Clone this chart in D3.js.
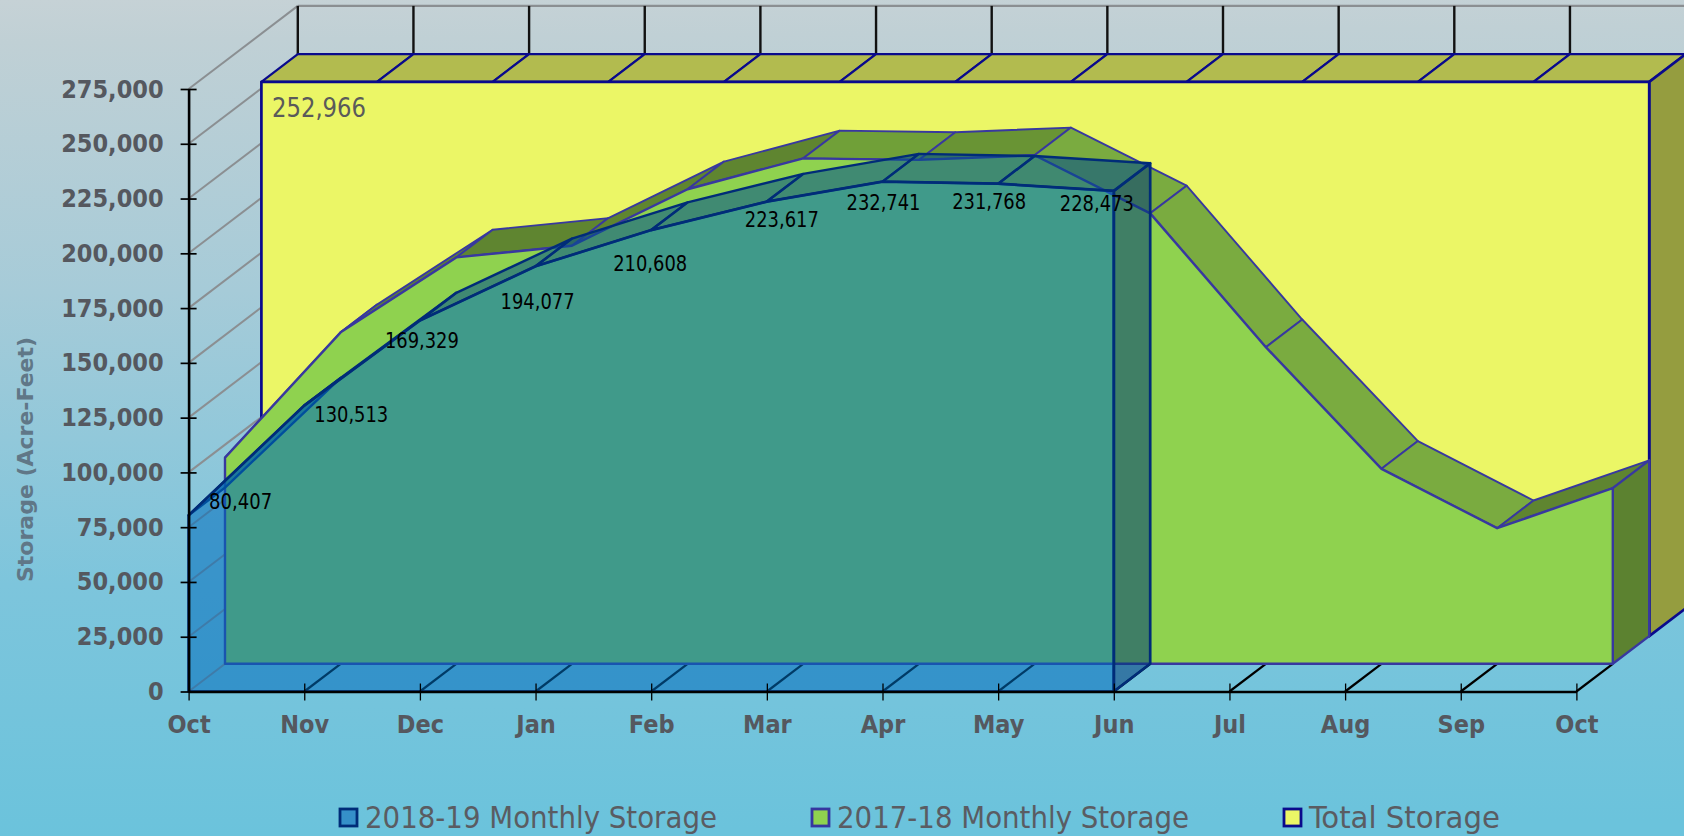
<!DOCTYPE html>
<html>
<head>
<meta charset="utf-8">
<script src="https://cdnjs.cloudflare.com/ajax/libs/d3/7.8.5/d3.min.js"></script>
<style>
html,body{margin:0;padding:0;overflow:hidden;background:#8fc8da}
svg{display:block}
text{font-family:"DejaVu Sans",sans-serif;font-stretch:condensed}
</style>
</head>
<body>
<svg id="c" width="1684" height="836"></svg>
<script>
// ---- data ----
const months = ["Oct","Nov","Dec","Jan","Feb","Mar","Apr","May","Jun","Jul","Aug","Sep","Oct"];
const storage2018 = [80407,130513,169329,194077,210608,223617,232741,231768,228473];
const storage2017 = [94100,151300,185500,190800,216600,230700,230000,232100,205600,144500,89000,61900,80200];
const totalStorage = [252966,252966,252966,252966,252966,252966,252966,252966,252966,252966,252966,252966,252966];
const yTicks = [0,25000,50000,75000,100000,125000,150000,175000,200000,225000,250000,275000];
const seriesNames = ["2018-19 Monthly Storage","2017-18 Monthly Storage","Total Storage"];

// ---- layout ----
const DX = 36.4, DY = 27.7;
const LABEL_SHIFT = [[52,-7],[47,15],[2,26],[2,42],[-1,40],[15,24],[1,27],[-9,24],[-17,19]];
const LEGEND_W = [352,352,191];
const svg = d3.select("#c");
const x = d3.scaleLinear().domain([0,12]).range([188.6,1576.4]);
const y = d3.scaleLinear().domain([0,275000]).range([691.5,89]);
const fmt = d3.format(",");
const px = (i,k)=>x(i)+k*DX, py = (v,k)=>y(v)-k*DY;
const poly = pts => "M"+pts.map(p=>p.join(",")).join("L")+"Z";

// background
const defs = svg.append("defs");
const g = defs.append("linearGradient").attr("id","bg").attr("x1",0).attr("y1",0).attr("x2",0.02).attr("y2",1);
[[0,"#c6d2d6"],[0.05,"#c0d0d5"],[0.35,"#a6cbd8"],[0.7,"#7dc5dc"],[1,"#6bc3dc"]].forEach(s=>g.append("stop").attr("offset",s[0]).attr("stop-color",s[1]));
svg.append("rect").attr("width",1684).attr("height",836).attr("fill","url(#bg)");

// side wall gridlines, back wall and floor ticks
const wall = svg.append("g");
wall.selectAll("line.grid").data(yTicks).join("line").attr("class","grid")
  .attr("x1",x(0)).attr("y1",d=>y(d)).attr("x2",px(0,3)).attr("y2",d=>py(d,3))
  .attr("stroke","#8b8f92").attr("stroke-width",2);
wall.append("line").attr("x1",px(0,3)).attr("x2",1684).attr("y1",py(275000,3)).attr("y2",py(275000,3))
  .attr("stroke","#8b8f92").attr("stroke-width",2.4);
wall.selectAll("line.bt").data(d3.range(13)).join("line").attr("class","bt")
  .attr("x1",d=>px(d,3)).attr("x2",d=>px(d,3)).attr("y1",py(275000,3)).attr("y2",py(totalStorage[0],2)-DY)
  .attr("stroke","#111").attr("stroke-width",2.4);
wall.selectAll("line.ft").data(d3.range(1,13)).join("line").attr("class","ft")
  .attr("x1",d=>px(d,0)).attr("x2",d=>px(d,1)).attr("y1",py(0,0)).attr("y2",py(0,1))
  .attr("stroke","#000").attr("stroke-width",2.2);

function drawLayer(values,k,o){
  const L = svg.append("g").attr("fill-opacity",o.alpha).attr("stroke",o.stroke).attr("stroke-linejoin","round");
  const n = values.length, last = n-1;
  const segs = d3.range(last);
  // top faces
  L.selectAll("path.top").data(segs).join("path").attr("class","top")
    .attr("d",i=>poly([[px(i,k),py(values[i],k)],[px(i+1,k),py(values[i+1],k)],[px(i+1,k+1),py(values[i+1],k+1)],[px(i,k+1),py(values[i],k+1)]]))
    .attr("fill",i=>o.shade((py(values[i+1],k)-py(values[i],k))/(px(i+1,k)-px(i,k))))
    .attr("stroke-width",o.topW);
  // right face
  L.append("path")
    .attr("d",poly([[px(last,k),py(values[last],k)],[px(last,k+1),py(values[last],k+1)],[px(last,k+1),py(0,k+1)],[px(last,k),py(0,k)]]))
    .attr("fill",o.side).attr("stroke-width",o.frontW);
  // front face
  const area = d3.area().x((d,i)=>px(i,k)).y1(d=>py(d,k)).y0(py(0,k));
  L.append("path").attr("d",area(values)+"").attr("fill",o.front).attr("stroke-width",o.frontW);
}

drawLayer(totalStorage,2,{alpha:1,stroke:"#0a0a8c",front:"#ebf666",side:"#959d3f",topW:2.2,frontW:2.7,
  shade:()=>"#b2bb4f"});
drawLayer(storage2017,1,{alpha:1,stroke:"#38389f",front:"#8fd24f",side:"#5c8230",topW:1.9,frontW:2.4,
  shade:d3.scaleLinear().domain([-0.1,0,0.1]).range(["#5f8530","#6f9e37","#7aab40"]).clamp(true)});
drawLayer(storage2018,0,{alpha:0.55,stroke:"#002c78",front:"#006cbc",side:"#003b79",topW:2.4,frontW:2.7,
  shade:d3.scaleLinear().domain([-0.3,0,0.3]).range(["#004f8f","#004f8f","#003f80"]).clamp(true)});

// axes
const axisColor = "#000", tickText = "#55585f";
const ay = svg.append("g").attr("transform",`translate(${x(0)},0)`)
  .call(d3.axisLeft(y).tickValues(yTicks).tickFormat(fmt).tickSize(8).tickSizeOuter(0).tickPadding(17));
ay.selectAll(".tick line").attr("x1",8).attr("x2",-8).attr("stroke",axisColor).attr("stroke-width",1.7);
const ax = svg.append("g").attr("transform",`translate(0,${y(0)})`)
  .call(d3.axisBottom(x).tickValues(d3.range(13)).tickFormat(i=>months[i]).tickSize(9).tickSizeOuter(0).tickPadding(15));
ax.selectAll(".tick line").attr("y1",-8).attr("y2",9).attr("stroke",axisColor).attr("stroke-width",1.3);
[ay,ax].forEach(a=>{
  a.select(".domain").attr("stroke",axisColor).attr("stroke-width",2.6);
  a.selectAll("text").attr("fill",tickText).attr("font-size",25).attr("font-weight","bold")
   .style("font-family",'"DejaVu Sans",sans-serif').style("font-stretch","condensed");
});

// axis title
svg.append("text").attr("transform","translate(33,459.5) rotate(-90)").attr("text-anchor","middle")
  .style("font-stretch","normal").attr("font-size",22).attr("font-weight","bold").attr("fill","#607787")
  .text("Storage (Acre-Feet)");

// data labels
svg.append("g").selectAll("text").data(storage2018).join("text")
  .attr("x",(d,i)=>x(i)+LABEL_SHIFT[i][0]).attr("y",(d,i)=>y(d)+LABEL_SHIFT[i][1]+1)
  .attr("text-anchor","middle").attr("font-size",21.5).attr("fill","#000")
  .attr("textLength",(d,i)=>i===0?63:74).attr("lengthAdjust","spacingAndGlyphs").text(d=>fmt(d));
svg.append("text").attr("x",272).attr("y",117).attr("font-size",26.5).attr("fill","#5a5a5a")
  .attr("textLength",94).attr("lengthAdjust","spacingAndGlyphs").text(fmt(totalStorage[0]));

// legend
const legendX = [339,811,1283], legendStroke=["#002c78","#36369f","#0a0a8c"], legendFill=["#3590c9","#8fd24f","#ebf666"];
const lg = svg.append("g").selectAll("g").data(seriesNames).join("g").attr("transform",(d,i)=>`translate(${legendX[i]},808)`);
lg.append("rect").attr("x",1).attr("y",1).attr("width",17).attr("height",17)
  .attr("fill",(d,i)=>legendFill[i]).attr("stroke",(d,i)=>legendStroke[i]).attr("stroke-width",2.8);
lg.append("text").attr("x",26).attr("y",19.5).attr("font-size",31).attr("fill","#5a5c62")
  .attr("textLength",(d,i)=>LEGEND_W[i]).attr("lengthAdjust","spacingAndGlyphs").text(d=>d);
</script>
</body>
</html>
